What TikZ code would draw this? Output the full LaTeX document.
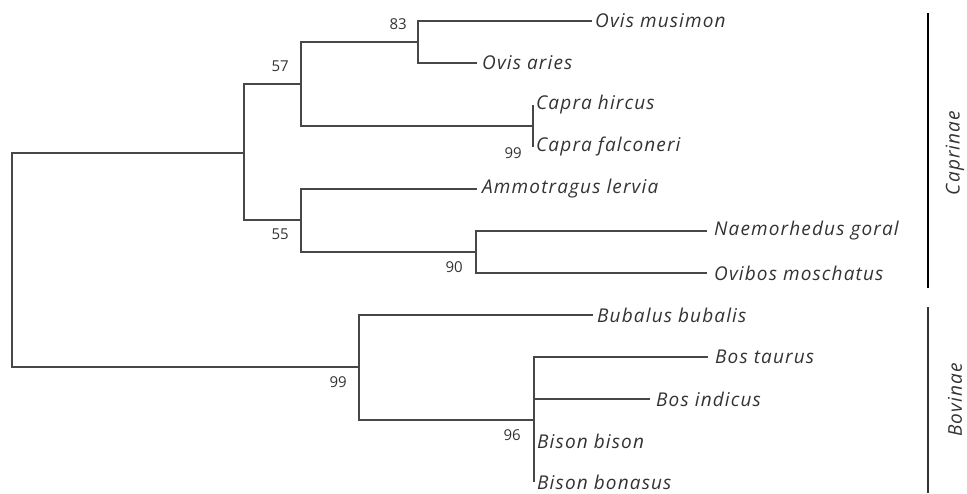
\documentclass[tikz,border=0pt]{standalone}
\usepackage{fontspec}
\setmainfont{Open Sans}
\newfontfamily\taxfont[LetterSpace=6]{Open Sans}
\usetikzlibrary{positioning}

\begin{document}
\begin{tikzpicture}[%
        x=1pt, y=-1pt,
        branch/.style={draw=black!72, line width=1.2pt},
        taxon/.style={font=\taxfont\fontsize{19}{22}\selectfont\itshape, text=black!80, inner sep=0pt, anchor=west},
        boot/.style={font=\fontsize{15}{18}\selectfont, text=black!80, inner sep=0pt},
        clade/.style={font=\taxfont\fontsize{19}{22}\selectfont\itshape, text=black!80, rotate=90}
        ]
        \useasboundingbox (0,0) rectangle (967,493);

        \coordinate (root) at (12,260);
        \coordinate (cap)  at (244,153);
        \coordinate (n57)  at (301,84);
        \coordinate (n83)  at (418,42);
        \coordinate (nca)  at (533,126);
        \coordinate (n55)  at (301,220);
        \coordinate (n90)  at (476,252);
        \coordinate (bov)  at (359,367);
        \coordinate (n96)  at (534,420);

        \coordinate (omus) at (592,21);
        \coordinate (oari) at (477,63);
        \coordinate (chir) at (533,105);
        \coordinate (cfal) at (533,147);
        \coordinate (amle) at (477,189);
        \coordinate (nago) at (707,231);
        \coordinate (ovmo) at (707,273);
        \coordinate (bubu) at (593,315);
        \coordinate (btau) at (708,357);
        \coordinate (bind) at (650,399);
        \coordinate (bbis) at (534,441);
        \coordinate (bbon) at (534,482);

        \node[taxon] (l1)  [right=3pt of omus] {Ovis musimon};
        \node[taxon] (l2)  [right=5pt of oari] {Ovis aries};
        \node[taxon] (l3)  [right=3pt of chir] {Capra hircus};
        \node[taxon] (l4)  [right=3pt of cfal] {Capra falconeri};
        \node[taxon] (l5)  [right=5pt of amle] {Ammotragus lervia};
        \node[taxon] (l6)  [right=7pt of nago] {Naemorhedus goral};
        \node[taxon] (l7)  [right=7pt of ovmo] {Ovibos moschatus};
        \node[taxon] (l8)  [right=4pt of bubu] {Bubalus bubalis};
        \node[taxon] (l9)  [right=7pt of btau] {Bos taurus};
        \node[taxon] (l10) [right=6pt of bind] {Bos indicus};
        \node[taxon] (l11) [right=3pt of bbis] {Bison bison};
        \node[taxon] (l12) [right=3pt of bbon] {Bison bonasus};

        \node[boot] (b83) [above left=12pt and 11pt of n83] {83};
        \node[boot] (b57) [above left=12pt and 12pt of n57] {57};
        \node[boot] (b55) [below left=9pt and 12pt of n55] {55};
        \node[boot] (b90) [below left=9pt and 13pt of n90] {90};
        \node[boot] (b99c) [left=11pt of cfal, yshift=-6pt] {99};
        \node[boot] (b99b) [below left=9pt and 12pt of bov] {99};
        \node[boot] (b96) [below left=9pt and 13pt of n96] {96};

        \path[branch] (root) |- (cap);
        \path[branch] (root) |- (bov);
        \path[branch] (cap) |- (n57);
        \path[branch] (cap) |- (n55);
        \path[branch] (n57) |- (n83);
        \path[branch] (n57) |- (nca);
        \path[branch] (n83) |- (omus);
        \path[branch] (n83) |- (oari);
        \path[branch] (chir) -- (cfal);
        \path[branch] (n55) |- (amle);
        \path[branch] (n55) |- (n90);
        \path[branch] (n90) |- (nago);
        \path[branch] (n90) |- (ovmo);
        \path[branch] (bov) |- (bubu);
        \path[branch] (bov) |- (n96);
        \path[branch] (n96) |- (btau);
        \path[branch] (n96) |- (bind);
        \path[branch] (btau) -| (bbon);

        \coordinate (ct) at (928,13);
        \coordinate (cb) at (928,288);
        \coordinate (bt) at (928,307);
        \coordinate (bb) at (928,493);
        \draw[black, line width=2.4pt] (ct) -- (cb);
        \draw[black!80, line width=1.1pt] (bt) -- (bb);
        \node[clade] (capr) at (955,153) {Caprinae};
        \node[clade] (bovi) at (955,400) {Bovinae};

    \end{tikzpicture}
\end{document}
